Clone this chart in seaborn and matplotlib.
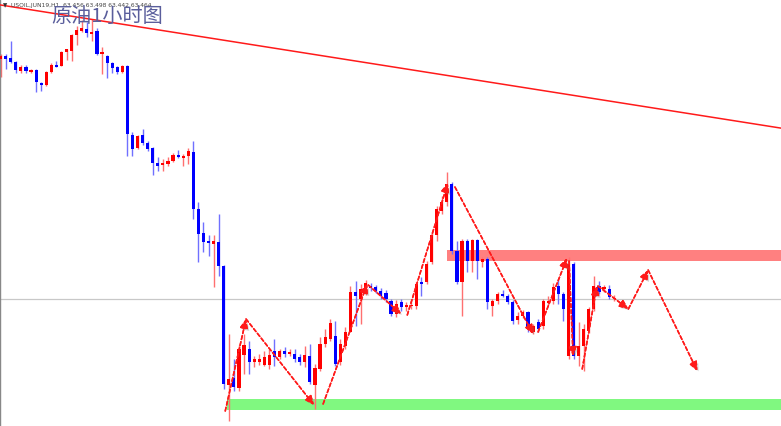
import numpy as np
import pandas as pd
import matplotlib
matplotlib.use("Agg")
import matplotlib.pyplot as plt
import matplotlib.patheffects as pe
import seaborn as sns

# hourly USOIL candles (oldest -> newest)
opens = [65.86, 65.89, 65.87, 65.83, 65.74, 65.78, 65.73, 65.75, 65.62, 65.60,
         65.73, 65.80, 65.79, 65.93, 65.94, 66.10, 66.14, 66.16, 66.11, 66.14,
         65.91, 65.89, 65.82, 65.78, 65.73, 65.79, 65.10, 64.97, 65.10, 65.02,
         64.97, 64.82, 64.80, 64.81, 64.84, 64.90, 64.87, 64.89, 64.93, 64.36,
         64.12, 64.04, 64.01, 64.03, 63.79, 62.60, 62.67, 62.57, 62.90, 62.96,
         62.83, 62.83, 62.80, 62.80, 62.94, 62.88, 62.94, 62.91, 62.91, 62.88,
         62.83, 62.89, 62.60, 62.76, 63.01, 63.06, 63.09, 62.83, 62.99, 63.13,
         63.53, 63.46, 63.52, 63.59, 63.58, 63.54, 63.52, 63.44, 63.31, 63.43,
         63.38, 63.39, 63.39, 63.63, 63.63, 63.83, 64.10, 64.34, 64.43, 64.61,
         63.94, 63.63, 64.04, 63.84, 64.05, 63.83, 63.86, 63.39, 63.44, 63.51,
         63.49, 63.43, 63.25, 63.29, 63.33, 63.13, 63.23, 63.19, 63.42, 63.44,
         63.59, 63.51, 62.89, 63.81, 62.89, 62.99, 63.14, 63.36, 63.59, 63.56,
         63.56, 63.456]
highs = [65.91, 65.91, 66.04, 65.84, 65.80, 65.80, 65.76, 65.76, 65.63, 65.74,
         65.82, 65.84, 65.94, 65.96, 66.11, 66.19, 66.25, 66.23, 66.26, 66.17,
         65.98, 65.90, 65.83, 65.79, 65.80, 65.80, 65.13, 65.10, 65.16, 65.04,
         64.98, 64.88, 64.86, 64.88, 64.92, 64.95, 64.91, 64.97, 65.04, 64.43,
         64.23, 64.10, 64.10, 64.31, 63.80, 63.11, 62.86, 63.00, 63.11, 63.04,
         62.89, 62.91, 62.94, 62.96, 63.06, 62.96, 62.98, 62.96, 62.96, 62.91,
         62.99, 63.01, 62.81, 63.08, 63.16, 63.26, 63.24, 63.06, 63.18, 63.59,
         63.64, 63.61, 63.65, 63.62, 63.60, 63.57, 63.55, 63.46, 63.45, 63.46,
         63.43, 63.44, 63.63, 63.68, 63.84, 64.13, 64.39, 64.49, 64.73, 64.63,
         64.04, 64.06, 64.06, 64.06, 64.06, 63.88, 63.88, 63.46, 63.53, 63.55,
         63.51, 63.45, 63.33, 63.35, 63.34, 63.21, 63.26, 63.46, 63.49, 63.62,
         63.66, 63.53, 63.88, 63.83, 63.23, 63.21, 63.38, 63.69, 63.64, 63.60,
         63.60, 63.498]
lows = [65.68, 65.76, 65.82, 65.72, 65.72, 65.72, 65.72, 65.53, 65.54, 65.59,
        65.72, 65.78, 65.79, 65.85, 65.84, 66.00, 66.13, 66.08, 66.04, 65.90,
        65.71, 65.67, 65.72, 65.71, 65.72, 64.89, 64.89, 64.96, 65.00, 64.94,
        64.70, 64.74, 64.74, 64.79, 64.83, 64.87, 64.79, 64.81, 64.26, 63.83,
        63.93, 63.89, 63.58, 63.69, 62.56, 62.24, 62.54, 62.54, 62.71, 62.71,
        62.78, 62.80, 62.79, 62.76, 62.79, 62.86, 62.88, 62.89, 62.83, 62.80,
        62.78, 62.61, 62.36, 62.74, 62.98, 63.04, 62.79, 62.80, 62.96, 63.13,
        63.19, 63.21, 63.50, 63.54, 63.52, 63.46, 63.43, 63.29, 63.28, 63.34,
        63.34, 63.36, 63.36, 63.49, 63.61, 63.81, 64.04, 64.31, 64.39, 63.91,
        63.61, 63.29, 63.73, 63.73, 63.66, 63.78, 63.36, 63.29, 63.41, 63.48,
        63.41, 63.21, 63.21, 63.27, 63.13, 63.11, 63.13, 63.16, 63.40, 63.41,
        63.41, 63.24, 62.86, 62.86, 62.79, 62.74, 63.12, 63.34, 63.51, 63.53,
        63.46, 63.442]
closes = [65.89, 65.86, 65.83, 65.75, 65.78, 65.74, 65.75, 65.63, 65.60, 65.73,
          65.80, 65.78, 65.93, 65.96, 66.10, 66.15, 66.17, 66.12, 66.13, 65.91,
          65.93, 65.82, 65.77, 65.73, 65.79, 65.11, 64.96, 65.09, 65.02, 64.96,
          64.82, 64.79, 64.82, 64.84, 64.90, 64.88, 64.89, 64.94, 64.36, 64.11,
          64.03, 64.02, 64.04, 63.79, 62.61, 62.66, 62.58, 62.96, 63.00, 62.83,
          62.86, 62.86, 62.88, 62.90, 62.88, 62.94, 62.91, 62.93, 62.86, 62.83,
          62.90, 62.63, 62.77, 63.01, 63.08, 63.22, 62.81, 63.01, 63.13, 63.53,
          63.49, 63.56, 63.62, 63.57, 63.54, 63.49, 63.46, 63.31, 63.41, 63.38,
          63.40, 63.40, 63.61, 63.61, 63.81, 64.10, 64.36, 64.43, 64.61, 63.94,
          63.63, 64.04, 63.84, 64.05, 63.84, 63.86, 63.43, 63.44, 63.51, 63.49,
          63.43, 63.24, 63.29, 63.33, 63.16, 63.19, 63.16, 63.44, 63.44, 63.58,
          63.51, 63.36, 63.81, 62.89, 62.99, 63.16, 63.36, 63.59, 63.53, 63.58,
          63.48, 63.464]

# hand-drawn wave projection: (bar, price) start -> end of each dashed arrow
wave_start = [(44.3, 62.34), (48.4, 63.26), (63.6, 62.41), (72.5, 63.60),
              (80.2, 63.30), (89.6, 64.58), (106.0, 63.13), (112.1, 63.84),
              (114.7, 62.76), (117.8, 63.59), (123.8, 63.36), (127.7, 63.75)]
wave_end = [(48.4, 63.26), (61.8, 62.40), (72.3, 63.61), (79.0, 63.31),
            (88.2, 64.62), (105.0, 63.11), (111.7, 63.87), (112.9, 62.89),
            (117.6, 63.59), (123.8, 63.36), (127.7, 63.75), (137.4, 62.74)]

# resistance / support zones (start bar, low price, high price)
resist_zone = (88.1, 63.84, 63.95)
support_zone = (44.7, 62.35, 62.46)
# falling trend line through two (bar, price) points
trend_pts = [(0.0, 66.40), (150.0, 65.20)]

header = "USOIL,JUN19,H1  63.456 63.498 63.442 63.464"
title = "原油1小时图"

df = pd.DataFrame({"open": opens, "high": highs, "low": lows, "close": closes})
df["bar"] = np.arange(len(df))
df["up"] = df["close"] >= df["open"]

sns.set_theme(style="white")
plt.rcParams["font.family"] = ["Noto Sans CJK SC", "DejaVu Sans"]

fig = plt.figure(figsize=(7.81, 4.27), dpi=100)
ax = fig.add_axes([0, 0, 1, 1])
ax.set_xlim(-0.12, 153.9)
ax.set_ylim(62.19, 66.46)

# zones
xmax = 153.9
ax.fill_between([resist_zone[0], xmax], resist_zone[1], resist_zone[2],
                color="#ff8080", lw=0, zorder=1)
ax.fill_between([support_zone[0], xmax], support_zone[1], support_zone[2],
                color="#80f880", lw=0, zorder=1)

# current price line
ax.axhline(df["close"].iloc[-1], color="#c8c8c8", lw=0.9, zorder=0.5)

# candles
up = df[df["up"]]
dn = df[~df["up"]]
ax.vlines(up["bar"], up["low"], up["high"], color="#ff7070", lw=1, zorder=2)
ax.vlines(dn["bar"], dn["low"], dn["high"], color="#7070ff", lw=1, zorder=2)
body_up = np.maximum(up["close"] - up["open"], 0.012)
body_dn = np.maximum(dn["open"] - dn["close"], 0.012)
ax.bar(up["bar"], body_up, bottom=up["open"], width=0.62,
       color="#ff0000", lw=0, zorder=3)
ax.bar(dn["bar"], body_dn, bottom=dn["close"], width=0.62,
       color="#0000ff", lw=0, zorder=3)

# trend line
ax.axline(trend_pts[0], trend_pts[1], color="#ff1a1a", lw=1.1, zorder=4)

# wave arrows
shadow = [pe.withSimplePatchShadow(offset=(1.5, -1.5), shadow_rgbFace="#888888",
                                   alpha=0.35), pe.Normal()]
for s, e in zip(wave_start, wave_end):
    ax.annotate("", xy=e, xytext=s,
                arrowprops=dict(arrowstyle="-|>,head_length=0.45,head_width=0.2",
                                color="#ff1a1a", lw=1.1, ls=(0, (2.5, 1.5)),
                                shrinkA=0, shrinkB=0, path_effects=shadow),
                zorder=5)

# header texts
fig.text(0.004, 0.992, "▼", fontsize=4, color="#333333", va="top",
         family=["DejaVu Sans"])
fig.text(0.014, 0.993, header, fontsize=4.3, color="#444444", va="top",
         family=["DejaVu Sans"])
fig.text(0.066, 0.987, title, fontsize=14.5, color="#5a5e9c", va="top",
         zorder=6)

for side in ["top", "right", "bottom"]:
    ax.spines[side].set_visible(False)
ax.spines["left"].set_color("#888888")
ax.spines["left"].set_linewidth(1)
ax.set_xticks([])
ax.set_yticks([])

fig.savefig("out.png", dpi=100)
